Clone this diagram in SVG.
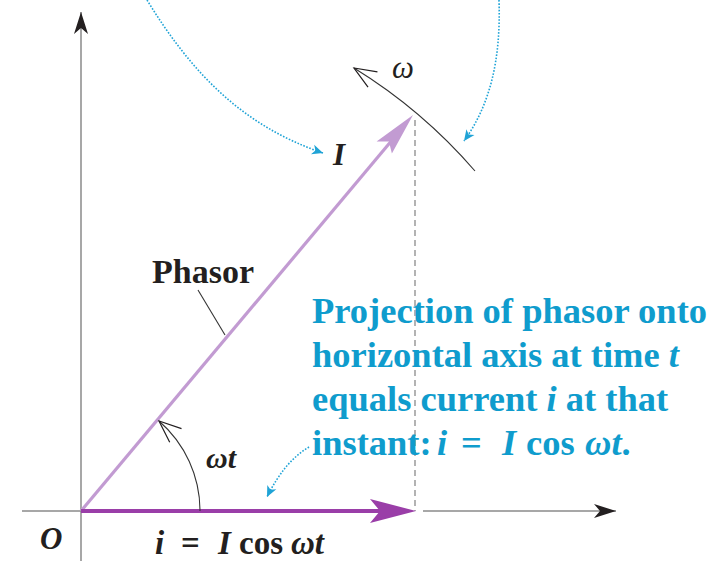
<svg xmlns="http://www.w3.org/2000/svg" width="719" height="561" viewBox="0 0 719 561">
<style>
.axis{stroke:#8a8a8a;stroke-width:1.5;fill:none}
.blue{stroke:#1fa3d6;stroke-width:1.6;fill:none;stroke-dasharray:1.6 1.6}
.thin{stroke:#333;stroke-width:1.1;fill:none}
.lbl{font-family:"Liberation Serif","Times New Roman",serif;fill:#231f20}
.btxt{font-family:"Liberation Serif","Times New Roman",serif;fill:#0f9ccd;font-weight:bold;font-size:36.5px}
</style>
<defs>
<marker id="dartK" markerUnits="userSpaceOnUse" markerWidth="30" markerHeight="30" refX="0" refY="0" viewBox="-25 -15 30 30" orient="auto">
<path d="M0,0 L-22,-7 L-16,0 L-22,7 Z" fill="#231f20"/>
</marker>
<marker id="dartB" markerUnits="userSpaceOnUse" markerWidth="20" markerHeight="20" refX="0" refY="0" viewBox="-15 -10 20 20" orient="auto">
<path d="M0,0 L-11,-5 L-8,0 L-11,5 Z" fill="#1fa3d6"/>
</marker>
<marker id="openK" markerUnits="userSpaceOnUse" markerWidth="40" markerHeight="40" refX="0" refY="0" viewBox="-30 -20 40 40" orient="auto">
<path d="M-22,-9 L0,0 L-22,9" fill="none" stroke="#231f20" stroke-width="1.2"/>
</marker>
</defs>
<g id="connectors">
<line id="yaxis" class="axis" x1="81" y1="561" x2="81" y2="12" marker-end="url(#dartK)"/>
<line id="xaxis-left" class="axis" x1="22" y1="511" x2="81" y2="511"/>
<line id="xaxis-right" class="axis" x1="423" y1="511" x2="616" y2="511" marker-end="url(#dartK)"/>
<line id="proj" x1="415" y1="120" x2="415" y2="511" stroke="#9a9a9a" stroke-width="1.5" stroke-dasharray="6 4"/>
<g id="phasor">
<line x1="81" y1="511" x2="393" y2="139" stroke="#c29bd2" stroke-width="3.2"/>
<path d="M413,115 L376.6,141.4 L388.9,141.6 L391.9,153.6 Z" fill="#c29bd2"/>
</g>
<g id="current">
<line x1="81" y1="511" x2="385" y2="511" stroke="#9a3ea8" stroke-width="4"/>
<path d="M416,511 L370,499 L380,511 L370,523 Z" fill="#9a3ea8"/>
</g>
<path id="omega-arc" class="thin" d="M475,171 A520,520 0 0 0 354,68" marker-end="url(#openK)"/>
<path id="wt-arc" class="thin" d="M200,511 A119,119 0 0 0 159,421" marker-end="url(#openK)"/>
<line id="phasor-leader" class="thin" x1="198" y1="290" x2="225" y2="335" stroke="#555"/>
<path id="b1" class="blue" d="M147,0 C190,70 240,125 323,153" marker-end="url(#dartB)"/>
<path id="b2" class="blue" d="M499,0 C501,60 490,105 464,141" marker-end="url(#dartB)"/>
<path id="b3" class="blue" d="M309,447 Q284,462 267,497" marker-end="url(#dartB)"/>
</g>
<g id="label-I"><text class="lbl" x="333" y="165" font-size="31" font-weight="bold" font-style="italic">I</text></g>
<g id="label-omega"><text class="lbl" x="392" y="78" font-size="31" font-style="italic">ω</text></g>
<g id="label-phasor"><text class="lbl" x="152" y="283" font-size="34" font-weight="bold">Phasor</text></g>
<g id="label-wt"><text class="lbl" x="206" y="468" font-size="30" font-weight="bold" font-style="italic">ωt</text></g>
<g id="label-O"><text class="lbl" x="40" y="549" font-size="31" font-weight="bold" font-style="italic">O</text></g>
<g id="label-formula"><text class="lbl" y="554" font-size="33" font-weight="bold"><tspan x="155" font-style="italic">i</tspan><tspan x="181">=</tspan><tspan x="218" font-style="italic">I</tspan><tspan x="239">cos</tspan><tspan x="291" font-style="italic">ωt</tspan></text></g>
<g id="note">
<text class="btxt" x="312" y="323">Projection of phasor onto</text>
<text class="btxt" x="312" y="367">horizontal axis at time <tspan font-style="italic">t</tspan></text>
<text class="btxt" x="312" y="411">equals current <tspan font-style="italic">i</tspan> at that</text>
<text class="btxt" y="455"><tspan x="312">instant:</tspan><tspan x="437" font-style="italic">i</tspan><tspan x="461">=</tspan><tspan x="502" font-style="italic">I</tspan><tspan x="526">cos</tspan><tspan x="585" font-style="italic">ωt</tspan><tspan>.</tspan></text>
</g>
</svg>
